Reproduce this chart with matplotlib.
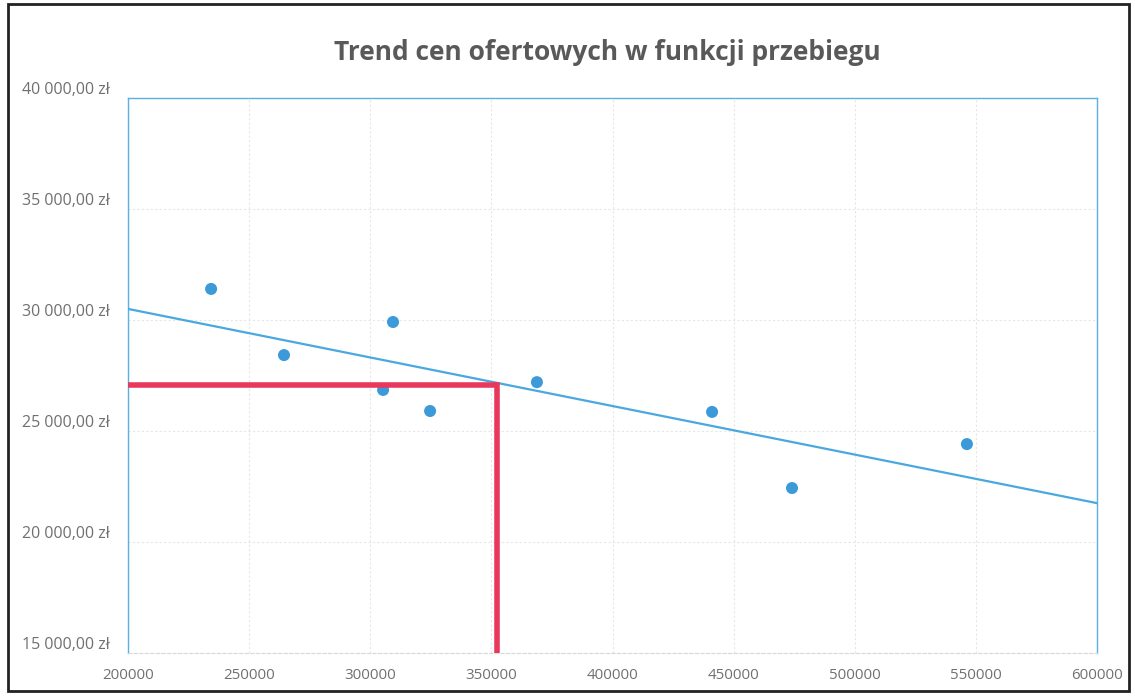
import matplotlib.pyplot as plt
import numpy as np
from matplotlib.patches import Rectangle
from matplotlib.ticker import FuncFormatter

# mileage (km) and offer price (zl)
przebieg = [234300, 264400, 305300, 309400, 324700, 368800, 441100, 474100, 546300]
cena = [31400, 28420, 26850, 29910, 25900, 27200, 25860, 22430, 24410]

# point (red marker lines)
odczyt_x = 352300
odczyt_y = 27070

x_ticks = [200000, 250000, 300000, 350000, 400000, 450000, 500000, 550000, 600000]
y_ticks = [15000, 20000, 25000, 30000, 35000, 40000]

plt.rcParams['font.family'] = ['Open Sans', 'DejaVu Sans']

fig = plt.figure(figsize=(11.35, 6.97), dpi=100)
ax = fig.add_axes([128 / 1135, 1 - 653 / 697, 969 / 1135, 555 / 697])

blue = '#3d9ad9'
grid_c = '#e6e6e6'

# linear trend
a, b = np.polyfit(przebieg, cena, 1)
tx = np.array([x_ticks[0], x_ticks[-1]])
ax.plot(tx, a * tx + b, color='#4aa8e0', lw=1.6, zorder=3)

ax.scatter(przebieg, cena, s=75, color=blue, edgecolors='none', zorder=4)

# red reading lines
ax.plot([x_ticks[0], odczyt_x], [odczyt_y, odczyt_y], color='#e8385c', lw=4,
        solid_capstyle='butt', zorder=5)
ax.plot([odczyt_x, odczyt_x], [odczyt_y, y_ticks[0]], color='#e8385c', lw=4,
        solid_capstyle='projecting', zorder=5)

ax.set_xlim(x_ticks[0], x_ticks[-1])
ax.set_ylim(y_ticks[0], y_ticks[-1])
ax.set_xticks(x_ticks)
ax.set_yticks(y_ticks)

def zl(v, pos):
    s = f'{int(v):,}'.replace(',', ' ')
    return f'{s},00 zł'

ax.yaxis.set_major_formatter(FuncFormatter(zl))
ax.xaxis.set_major_formatter(FuncFormatter(lambda v, p: f'{int(v)}'))
ax.tick_params(axis='both', length=0, colors='#707070')
ax.tick_params(axis='y', pad=13, labelsize=11.5)
ax.tick_params(axis='x', pad=11, labelsize=10.8)
for lbl in ax.get_yticklabels():
    lbl.set_va('bottom')

ax.grid(True, color=grid_c, lw=0.8, ls=(0, (2, 2)))
ax.set_axisbelow(True)

for side in ['left', 'right', 'top']:
    ax.spines[side].set_color('#5ab0e0')
    ax.spines[side].set_linewidth(1.0)
ax.spines['bottom'].set_color('#d8d8d8')
ax.spines['bottom'].set_linestyle((0, (3, 2)))

fig.text(607 / 1135, 0.925, 'Trend cen ofertowych w funkcji przebiegu', ha='center',
         va='center', fontsize=19, fontweight='bold', color='#595959')

# outer frame
fig.patches.append(Rectangle((8 / 1135, 6 / 697), 1 - 14 / 1135, 1 - 10 / 697,
                             transform=fig.transFigure, fill=False,
                             edgecolor='#222222', lw=2.0))

fig.savefig('out.png', dpi=100)
